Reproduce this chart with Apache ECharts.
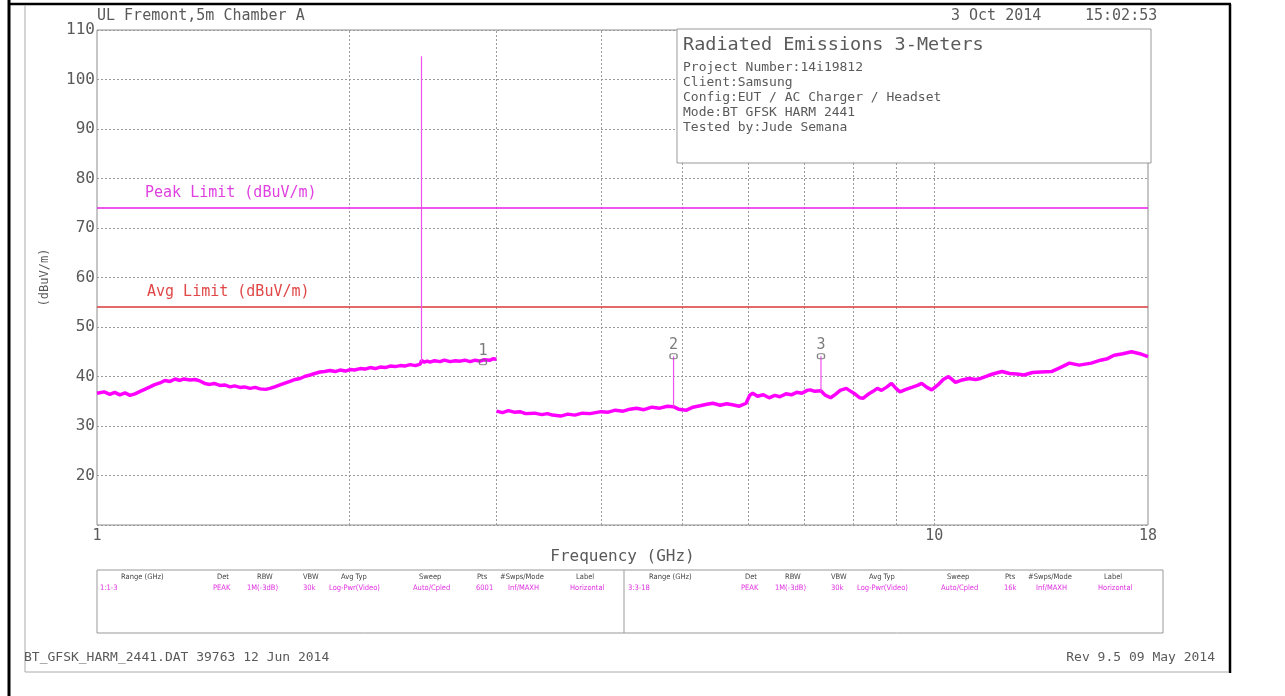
<!DOCTYPE html>
<html>
<head>
<meta charset="utf-8">
<title>Radiated Emissions 3-Meters</title>
<script src="https://cdn.jsdelivr.net/npm/echarts@6/dist/echarts.min.js"></script>
<style>
  html, body { margin: 0; padding: 0; background: #fff; }
  #chart { width: 1285px; height: 696px; }
</style>
</head>
<body>
<div id="chart"></div>
<script>
// sweep 1 : 1-3 GHz  [GHz, dBuV/m]
var sweep1 = [
  [1.00, 36.6], [1.02, 36.9], [1.036, 36.4], [1.05, 36.8], [1.065, 36.3], [1.08, 36.7],
  [1.095, 36.2], [1.11, 36.5], [1.126, 37.0], [1.14, 37.4], [1.157, 37.9], [1.17, 38.3],
  [1.189, 38.7], [1.205, 39.2], [1.222, 39.0], [1.24, 39.5], [1.256, 39.2], [1.27, 39.5],
  [1.291, 39.3], [1.31, 39.4], [1.327, 39.1], [1.345, 38.6], [1.364, 38.4], [1.38, 38.6],
  [1.402, 38.2], [1.42, 38.3], [1.442, 37.9], [1.46, 38.1], [1.482, 37.8], [1.50, 37.9],
  [1.523, 37.6], [1.545, 37.8], [1.566, 37.5], [1.59, 37.4], [1.609, 37.6], [1.63, 37.9],
  [1.654, 38.3], [1.68, 38.7], [1.70, 39.0], [1.725, 39.4], [1.748, 39.6], [1.77, 40.0],
  [1.797, 40.3], [1.82, 40.6], [1.847, 40.9], [1.87, 41.0], [1.898, 41.2], [1.925, 41.0],
  [1.951, 41.3], [1.98, 41.1], [2.006, 41.4], [2.03, 41.3], [2.062, 41.6], [2.09, 41.5],
  [2.119, 41.8], [2.15, 41.6], [2.178, 41.9], [2.21, 41.8], [2.239, 42.1], [2.27, 42.0],
  [2.302, 42.2], [2.33, 42.1], [2.366, 42.4], [2.40, 42.2], [2.432, 42.5], [2.441, 43.2],
  [2.46, 42.9], [2.48, 43.1], [2.499, 42.9], [2.53, 43.2], [2.569, 43.0], [2.60, 43.3],
  [2.64, 43.0], [2.68, 43.2], [2.714, 43.1], [2.75, 43.3], [2.79, 43.0], [2.83, 43.3],
  [2.868, 43.1], [2.90, 43.4], [2.948, 43.3], [2.97, 43.6], [3.00, 43.5]
];

// sweep 3 : 3-18 GHz
var sweep3 = [
  [3.00, 33.0], [3.05, 32.7], [3.10, 33.1], [3.15, 32.8], [3.20, 32.9], [3.25, 32.5],
  [3.33, 32.6], [3.40, 32.3], [3.45, 32.5], [3.50, 32.2], [3.58, 32.0], [3.65, 32.4],
  [3.72, 32.2], [3.80, 32.6], [3.88, 32.5], [4.00, 32.9], [4.08, 32.8], [4.16, 33.2],
  [4.25, 33.0], [4.33, 33.4], [4.41, 33.6], [4.50, 33.3], [4.60, 33.8], [4.70, 33.6],
  [4.80, 34.0], [4.88, 33.9], [4.95, 33.4], [5.06, 33.2], [5.15, 33.8], [5.25, 34.1],
  [5.35, 34.4], [5.44, 34.6], [5.55, 34.2], [5.65, 34.5], [5.74, 34.3], [5.85, 34.0],
  [5.96, 34.6], [6.02, 36.2], [6.07, 36.6], [6.15, 36.0], [6.25, 36.3], [6.35, 35.7],
  [6.45, 36.2], [6.54, 35.9], [6.65, 36.5], [6.75, 36.3], [6.85, 36.8], [6.95, 36.6],
  [7.05, 37.2], [7.11, 37.3], [7.20, 37.0], [7.32, 37.1], [7.40, 36.3], [7.52, 35.7],
  [7.62, 36.4], [7.72, 37.2], [7.85, 37.6], [7.95, 37.0], [8.05, 36.4], [8.15, 35.7],
  [8.22, 35.6], [8.32, 36.3], [8.45, 37.0], [8.55, 37.6], [8.65, 37.2], [8.78, 37.9],
  [8.89, 38.6], [9.00, 37.6], [9.10, 36.9], [9.25, 37.4], [9.40, 37.8], [9.55, 38.2],
  [9.66, 38.6], [9.80, 37.8], [9.93, 37.3], [10.1, 38.3], [10.25, 39.4], [10.4, 40.0],
  [10.6, 38.8], [10.8, 39.3], [11.0, 39.6], [11.2, 39.4], [11.36, 39.6], [11.6, 40.2],
  [11.8, 40.6], [12.05, 41.0], [12.3, 40.6], [12.55, 40.5], [12.8, 40.3], [13.1, 40.8],
  [13.4, 40.9], [13.8, 41.0], [14.1, 41.7], [14.5, 42.7], [14.9, 42.3], [15.4, 42.7],
  [15.8, 43.3], [16.1, 43.6], [16.4, 44.3], [16.8, 44.6], [17.2, 45.0], [17.6, 44.6],
  [18.0, 44.0]
];

// narrow emissions (carrier and harmonics)
var carrier = [[2.441, 43.0], [2.441, 104.7]];
var harm2 = [[4.882, 33.9], [4.882, 44.1]];
var harm3 = [[7.323, 37.0], [7.323, 44.1]];

// markers
var markerNames = ['1', '2', '3'];
var markerPts = [[2.89, 42.9], [4.882, 44.1], [7.323, 44.1]];

// limits
var peakLimit = 74;
var avgLimit = 54;

// axes
var freqGrid = [2, 3, 4, 5, 6, 7, 8, 9, 10];
var freqLabels = [1, 10, 18];

// text
var infoLines = [
  'Project Number:14i19812',
  'Client:Samsung',
  'Config:EUT / AC Charger / Headset',
  'Mode:BT GFSK HARM 2441',
  'Tested by:Jude Semana'
];
var tableHeads = ['Range (GHz)', 'Det', 'RBW', 'VBW', 'Avg Typ', 'Sweep', 'Pts', '#Swps/Mode', 'Label'];
var tableHeadX = [121, 217, 257, 303, 341, 419, 477, 500, 576];
var row1 = ['1:1-3', 'PEAK', '1M(-3dB)', '30k', 'Log-Pwr(Video)', 'Auto/Cpled', '6001', 'Inf/MAXH', 'Horizontal'];
var row3 = ['3:3-18', 'PEAK', '1M(-3dB)', '30k', 'Log-Pwr(Video)', 'Auto/Cpled', '16k', 'Inf/MAXH', 'Horizontal'];
var rowX = [100, 213, 247, 303, 329, 413, 476, 508, 570];

var MONO = '"DejaVu Sans Mono", "Liberation Mono", monospace';
var GREY = '#5a5a5a';
var MAG = '#ff00ff';

var chart = echarts.init(document.getElementById('chart'), null, { renderer: 'canvas' });

function txt (x, y, s, size, color, align, font) {
  return {
    type: 'text', x: x, y: y, z: 100,
    style: {
      text: s, fill: color || GREY, font: size + 'px ' + (font || MONO),
      textAlign: align || 'left', textVerticalAlign: 'middle'
    }
  };
}
function ln (x1, y1, x2, y2, color, w) {
  return {
    type: 'line', z: 100,
    shape: { x1: x1, y1: y1, x2: x2, y2: y2 },
    style: { stroke: color, lineWidth: w }
  };
}

var graphics = [];
// page frame
graphics.push(ln(9, 0, 9, 696, '#000', 3));
graphics.push(ln(8, 4, 1231, 4, '#000', 2.5));
graphics.push(ln(1230, 4, 1230, 673, '#000', 2.5));
graphics.push(ln(25, 5, 25, 672, '#aaa', 1));
graphics.push(ln(25, 672, 1229, 672, '#aaa', 1));
// header
graphics.push(txt(97, 16, 'UL Fremont,5m Chamber A', 15));
graphics.push(txt(951, 16, '3 Oct 2014', 15));
graphics.push(txt(1085, 16, '15:02:53', 15));
// info box
graphics.push({
  type: 'rect', z: 90,
  shape: { x: 677, y: 29, width: 474, height: 134 },
  style: { fill: '#fff', stroke: '#999', lineWidth: 1 }
});
graphics.push(txt(683, 45, 'Radiated Emissions 3-Meters', 18.5));
infoLines.forEach(function (s, i) {
  graphics.push(txt(683, 68 + i * 15, s, 13));
});
// sweep table
graphics.push({
  type: 'rect', z: 90,
  shape: { x: 97, y: 570, width: 1066, height: 63 },
  style: { fill: '#fff', stroke: '#999', lineWidth: 1 }
});
graphics.push(ln(624, 570, 624, 633, '#999', 1));
var SANS = '"DejaVu Sans Condensed", "DejaVu Sans", sans-serif';
[0, 528].forEach(function (off, k) {
  tableHeads.forEach(function (s, i) {
    graphics.push(txt(tableHeadX[i] + off, 577, s, 7.5, '#444', 'left', SANS));
  });
  var row = k === 0 ? row1 : row3;
  row.forEach(function (s, i) {
    graphics.push(txt(rowX[i] + off, 588, s, 7.5, '#e030e0', 'left', SANS));
  });
});
// footer
graphics.push(txt(24, 658, 'BT_GFSK_HARM_2441.DAT 39763 12 Jun 2014', 13));
graphics.push(txt(1215, 658, 'Rev 9.5 09 May 2014', 13, GREY, 'right'));

var option = {
  backgroundColor: '#fff',
  animation: false,
  grid: {
    left: 97, right: 137, top: 30, bottom: 171,
    show: true, borderColor: '#8c8c8c', borderWidth: 1, backgroundColor: 'transparent'
  },
  xAxis: {
    type: 'log',
    logBase: 10,
    min: 1,
    max: 18,
    name: 'Frequency (GHz)',
    nameLocation: 'middle',
    nameGap: 23,
    nameTextStyle: { fontFamily: MONO, fontSize: 16, color: GREY },
    axisLine: { show: false },
    axisTick: { show: false },
    splitLine: { show: false },
    axisLabel: {
      customValues: freqLabels,
      fontFamily: MONO, fontSize: 15, color: GREY, margin: 4,
      formatter: function (v) { return String(Math.round(v)); }
    }
  },
  yAxis: {
    type: 'value',
    min: 10,
    max: 110,
    interval: 10,
    name: '(dBuV/m)',
    nameLocation: 'middle',
    nameRotate: 90,
    nameGap: 46,
    nameTextStyle: { fontFamily: MONO, fontSize: 12, color: GREY },
    axisLine: { show: false },
    axisTick: { show: false },
    axisLabel: {
      fontFamily: MONO, fontSize: 16, color: GREY, margin: 2,
      formatter: function (v) { return v === 10 ? '' : String(v); }
    },
    splitLine: { lineStyle: { type: [2, 2], color: '#9a9a9a', width: 1 } }
  },
  series: [
    {
      name: 'Sweep 1-3 GHz',
      type: 'line',
      data: sweep1,
      symbol: 'none',
      z: 5,
      lineStyle: { color: MAG, width: 3.5 },
      markLine: {
        silent: true,
        symbol: 'none',
        z: 1,
        label: { show: false },
        lineStyle: { type: [2, 2], color: '#9a9a9a', width: 1 },
        data: freqGrid.map(function (f) { return { xAxis: f }; })
      }
    },
    {
      name: 'Sweep 3-18 GHz',
      type: 'line',
      data: sweep3,
      symbol: 'none',
      z: 5,
      lineStyle: { color: MAG, width: 3.5 },
      markLine: {
        silent: true,
        symbol: 'none',
        z: 3,
        data: [
          {
            yAxis: peakLimit,
            lineStyle: { type: 'solid', color: '#e81ee8', width: 1.6 },
            label: {
              show: true, position: 'insideStartTop', distance: [48, 8],
              formatter: 'Peak Limit (dBuV/m)',
              fontFamily: MONO, fontSize: 15, color: '#e040e0'
            }
          },
          {
            yAxis: avgLimit,
            lineStyle: { type: 'solid', color: '#d83838', width: 1.6 },
            label: {
              show: true, position: 'insideStartTop', distance: [50, 8],
              formatter: 'Avg Limit (dBuV/m)',
              fontFamily: MONO, fontSize: 15, color: '#e04848'
            }
          }
        ]
      }
    },
    { name: 'Carrier', type: 'line', data: carrier, symbol: 'none', z: 6, lineStyle: { color: '#f050f0', width: 1.2 } },
    { name: '2nd harmonic', type: 'line', data: harm2, symbol: 'none', z: 6, lineStyle: { color: '#f050f0', width: 1.2 } },
    { name: '3rd harmonic', type: 'line', data: harm3, symbol: 'none', z: 6, lineStyle: { color: '#f050f0', width: 1.2 } },
    {
      name: 'Markers',
      type: 'scatter',
      z: 8,
      symbol: 'roundRect',
      symbolSize: [7, 5],
      data: markerPts.map(function (p, i) { return { name: markerNames[i], value: p }; }),
      itemStyle: { color: 'rgba(255,255,255,0)', borderColor: '#666', borderWidth: 1.2 },
      label: {
        show: true, position: 'top', distance: 1,
        formatter: '{b}', fontFamily: MONO, fontSize: 15, color: GREY
      }
    }
  ],
  graphic: graphics
};

chart.setOption(option);
</script>
</body>
</html>
